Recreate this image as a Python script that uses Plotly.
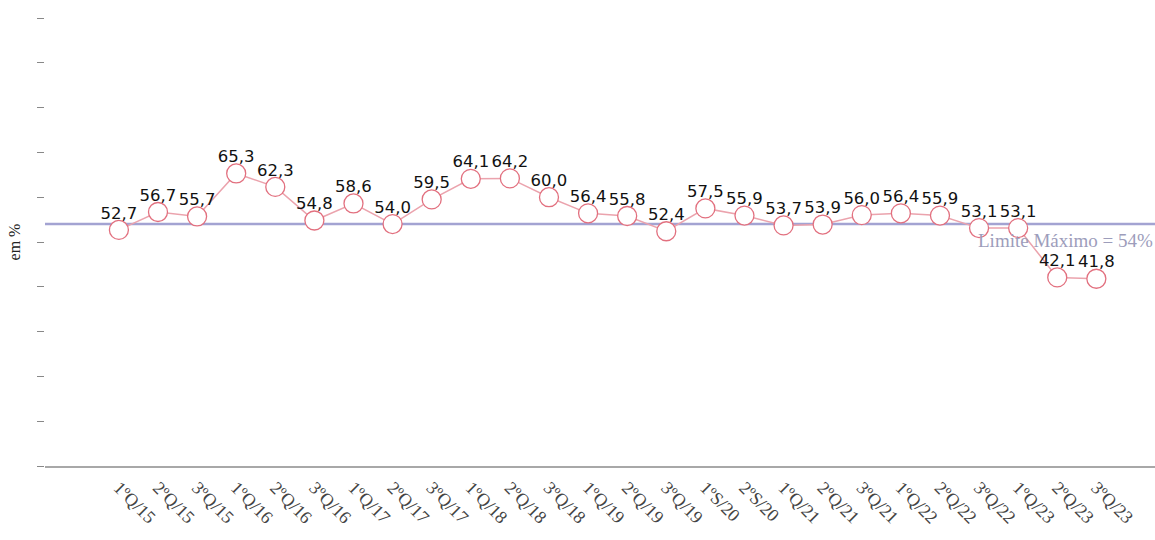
import plotly.graph_objects as go

periodos = [
    "1ºQ/15", "2ºQ/15", "3ºQ/15",
    "1ºQ/16", "2ºQ/16", "3ºQ/16",
    "1ºQ/17", "2ºQ/17", "3ºQ/17",
    "1ºQ/18", "2ºQ/18", "3ºQ/18",
    "1ºQ/19", "2ºQ/19", "3ºQ/19",
    "1ºS/20", "2ºS/20",
    "1ºQ/21", "2ºQ/21", "3ºQ/21",
    "1ºQ/22", "2ºQ/22", "3ºQ/22",
    "1ºQ/23", "2ºQ/23", "3ºQ/23",
]
percentuais = [
    52.7, 56.7, 55.7,
    65.3, 62.3, 54.8,
    58.6, 54.0, 59.5,
    64.1, 64.2, 60.0,
    56.4, 55.8, 52.4,
    57.5, 55.9,
    53.7, 53.9, 56.0,
    56.4, 55.9, 53.1,
    53.1, 42.1, 41.8,
]
limite_maximo = 54
y_ticks = [0, 10, 20, 30, 40, 50, 60, 70, 80, 90, 100]

idx = list(range(len(periodos)))
rotulos = [f"{v:.1f}".replace(".", ",") for v in percentuais]

fig = go.Figure()

# série: linha com marcadores vazados
fig.add_trace(go.Scatter(
    x=idx,
    y=percentuais,
    mode="lines+markers",
    line=dict(color="#eba3ad", width=1.5),
    marker=dict(symbol="circle", size=19, color="white",
                line=dict(color="#e2707f", width=1.3)),
    hoverinfo="skip",
    showlegend=False,
))

# rótulos de valor logo acima de cada ponto
fig.add_trace(go.Scatter(
    x=idx,
    y=percentuais,
    mode="markers+text",
    marker=dict(size=10, opacity=0),
    text=rotulos,
    textposition="top center",
    textfont=dict(family="DejaVu Sans", size=16.5, color="#111111"),
    cliponaxis=False,
    hoverinfo="skip",
    showlegend=False,
))

# linha do limite máximo
fig.add_shape(
    type="line", xref="paper", x0=0, x1=1,
    yref="y", y0=limite_maximo, y1=limite_maximo,
    line=dict(color="#a3a3d2", width=2.5),
    layer="below",
)
fig.add_annotation(
    xref="paper", x=1, xanchor="right",
    yref="y", y=limite_maximo, yanchor="top", yshift=-4,
    text=f"Limite Máximo = {limite_maximo}%",
    showarrow=False,
    font=dict(family="Liberation Serif", size=19, color="#9d9dbb"),
)

fig.update_layout(
    width=1155, height=540,
    margin=dict(l=45, r=0, t=18, b=74),
    paper_bgcolor="white",
    plot_bgcolor="white",
)
fig.update_xaxes(
    range=[-1.89, 26.5],
    tickmode="array",
    tickvals=idx,
    ticktext=periodos,
    tickangle=45,
    tickfont=dict(family="Liberation Serif", size=18, color="#444444"),
    ticks="",
    showgrid=False,
    zeroline=False,
    showline=True,
    linecolor="#a8a8a8",
    linewidth=2,
    ticklabelstandoff=2,
)
fig.update_yaxes(
    range=[0, 100],
    tickmode="array",
    tickvals=y_ticks,
    showticklabels=False,
    ticks="outside",
    ticklen=7,
    tickcolor="#888888",
    showgrid=False,
    zeroline=False,
    showline=False,
    title=dict(text="em %", font=dict(family="Liberation Serif", size=16, color="#222222"),
               standoff=12),
)

fig.write_html("out.html")
